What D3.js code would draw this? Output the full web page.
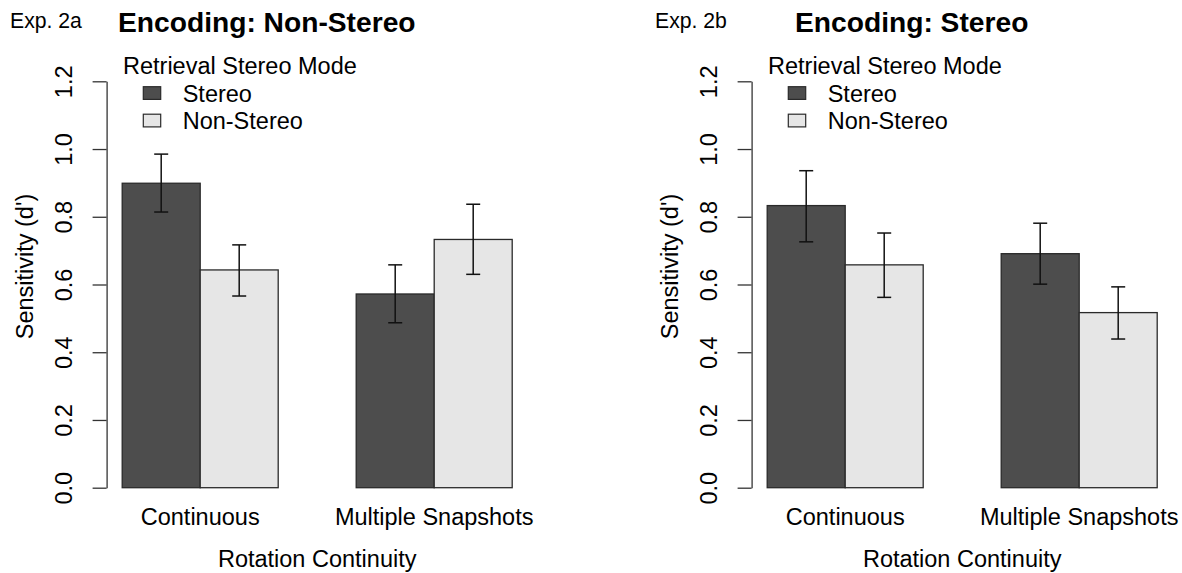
<!DOCTYPE html>
<html>
<head>
<meta charset="utf-8">
<script src="https://cdn.jsdelivr.net/npm/d3@7"></script>
<style>
  html, body { margin: 0; padding: 0; background: #fff; }
  svg { display: block; font-family: "Liberation Sans", Arial, sans-serif; }
</style>
</head>
<body>
<svg id="chart" width="1182" height="573"></svg>
<script>
// ---- Data ----
const categories = ["Continuous", "Multiple Snapshots"];
const seriesNames = ["Stereo", "Non-Stereo"];
const seriesColors = ["#4d4d4d", "#e6e6e6"];
const yTicks = [0.0, 0.2, 0.4, 0.6, 0.8, 1.0, 1.2];

const panelTags = ["Exp. 2a", "Exp. 2b"];
const panelTitles = ["Encoding: Non-Stereo", "Encoding: Stereo"];

// Exp. 2a (Encoding: Non-Stereo)
const exp2aStereoMean = [0.899, 0.572];
const exp2aStereoLow  = [0.814, 0.487];
const exp2aStereoHigh = [0.985, 0.658];
const exp2aNonStereoMean = [0.643, 0.733];
const exp2aNonStereoLow  = [0.566, 0.630];
const exp2aNonStereoHigh = [0.717, 0.837];

// Exp. 2b (Encoding: Stereo)
const exp2bStereoMean = [0.833, 0.691];
const exp2bStereoLow  = [0.726, 0.601];
const exp2bStereoHigh = [0.936, 0.781];
const exp2bNonStereoMean = [0.658, 0.517];
const exp2bNonStereoLow  = [0.562, 0.439];
const exp2bNonStereoHigh = [0.752, 0.593];

const panels = [
  { tag: panelTags[0], title: panelTitles[0],
    series: [
      { mean: exp2aStereoMean, low: exp2aStereoLow, high: exp2aStereoHigh },
      { mean: exp2aNonStereoMean, low: exp2aNonStereoLow, high: exp2aNonStereoHigh }
    ] },
  { tag: panelTags[1], title: panelTitles[1],
    series: [
      { mean: exp2bStereoMean, low: exp2bStereoLow, high: exp2bStereoHigh },
      { mean: exp2bNonStereoMean, low: exp2bNonStereoLow, high: exp2bNonStereoHigh }
    ] }
];

// ---- Layout ----
const svg = d3.select("#chart");
const FS = 23.5;
const barW = 78;
const plotLeft = 106.6;          // position of y axis (usr x min)
const panelOffsets = [0, 645];
const tagX = [10, 655];
const titleX = [118, 795];

const y = d3.scaleLinear().domain([0, 1.2]).range([487.7, 81.3]);

panels.forEach((p, pi) => {
  const g = svg.append("g").attr("transform", `translate(${panelOffsets[pi]},0)`);
  // x in barplot user units: bars occupy [1,3] and [4,6]; usr range [0.8, 6.2]
  const x = d3.scaleLinear().domain([0.8, 6.2]).range([plotLeft, plotLeft + 5.4 * barW]);
  const barLeft = (ci, si) => 1 + ci * 3 + si;

  // bars
  p.series.forEach((s, si) => {
    g.selectAll(null).data(s.mean).enter().append("rect")
      .attr("x", (d, ci) => x(barLeft(ci, si)))
      .attr("y", d => y(d))
      .attr("width", (d, ci) => x(barLeft(ci, si) + 1) - x(barLeft(ci, si)))
      .attr("height", d => y(0) - y(d))
      .attr("fill", seriesColors[si])
      .attr("stroke", "#2a2a2a")
      .attr("stroke-width", 1.3);
  });

  // error bars
  p.series.forEach((s, si) => {
    s.mean.forEach((m, ci) => {
      const cx = x(barLeft(ci, si) + 0.5);
      const cap = 7;
      const eg = g.append("g").attr("stroke", "#111").attr("stroke-width", 1.5).attr("fill", "none");
      eg.append("line").attr("x1", cx).attr("x2", cx).attr("y1", y(s.low[ci])).attr("y2", y(s.high[ci]));
      eg.append("line").attr("x1", cx - cap).attr("x2", cx + cap).attr("y1", y(s.high[ci])).attr("y2", y(s.high[ci]));
      eg.append("line").attr("x1", cx - cap).attr("x2", cx + cap).attr("y1", y(s.low[ci])).attr("y2", y(s.low[ci]));
    });
  });

  // y axis
  const ax = g.append("g").attr("transform", `translate(${plotLeft},0)`)
    .call(d3.axisLeft(y).tickValues(yTicks).tickSize(14).tickSizeOuter(0).tickFormat(d3.format(".1f")));
  ax.select(".domain").attr("stroke", "#333").attr("stroke-width", 1.3);
  ax.selectAll(".tick line").attr("stroke", "#333").attr("stroke-width", 1.3);
  ax.selectAll(".tick text")
    .attr("x", null).attr("dy", null)
    .attr("transform", "translate(-34.3,0) rotate(-90)")
    .attr("text-anchor", "middle")
    .attr("fill", "#000")
    .style("font-size", FS + "px")
    .style("font-family", "'Liberation Sans', Arial, sans-serif");

  // y label
  g.append("text")
    .attr("transform", `translate(${plotLeft - 73.8},266.5) rotate(-90)`)
    .attr("text-anchor", "middle")
    .style("font-size", FS + "px")
    .text("Sensitivity (d')");

  // category labels
  g.selectAll(null).data(categories).enter().append("text")
    .attr("x", (d, ci) => x(2 + ci * 3))
    .attr("y", 525)
    .attr("text-anchor", "middle")
    .style("font-size", FS + "px")
    .text(d => d);

  // x title
  g.append("text")
    .attr("x", (x(0.8) + x(6.2)) / 2)
    .attr("y", 566.5)
    .attr("text-anchor", "middle")
    .style("font-size", FS + "px")
    .text("Rotation Continuity");

  // legend
  const lx = plotLeft + 16.4;
  g.append("text").attr("x", lx).attr("y", 73.5)
    .style("font-size", FS + "px").text("Retrieval Stereo Mode");
  seriesNames.forEach((name, si) => {
    g.append("rect")
      .attr("x", lx + 20.3).attr("y", 86.7 + si * 27.5)
      .attr("width", 17.4).attr("height", 12.7)
      .attr("fill", seriesColors[si]).attr("stroke", "#2a2a2a").attr("stroke-width", 1.2);
    g.append("text").attr("x", lx + 59.7).attr("y", 101.7 + si * 27.6)
      .style("font-size", FS + "px").text(name);
  });
});

// panel tags and titles (absolute)
panels.forEach((p, pi) => {
  svg.append("text").attr("x", tagX[pi]).attr("y", 28.3)
    .style("font-size", "21.2px").text(p.tag);
  svg.append("text").attr("x", titleX[pi]).attr("y", 31.6)
    .style("font-size", "28.2px").style("font-weight", "bold").text(p.title);
});
</script>
</body>
</html>
